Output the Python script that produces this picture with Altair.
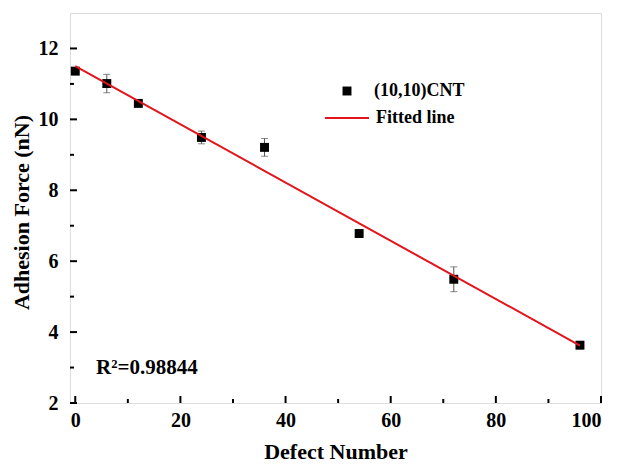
import altair as alt
import pandas as pd

# ---- data ----
defects = [0, 6, 12, 24, 36, 54, 72, 96]
force = [11.36, 11.01, 10.45, 9.49, 9.21, 6.78, 5.49, 3.63]
err = [0.05, 0.26, 0.06, 0.18, 0.25, 0.04, 0.35, 0.05]
fit_x = [0, 96]
fit_y = [11.50, 3.62]
x_major = [0, 20, 40, 60, 80, 100]
x_minor = [10, 30, 50, 70, 90]
y_major = [2, 4, 6, 8, 10, 12]
y_minor = [3, 5, 7, 9, 11]
annotation = ["R²=0.98844"]

FONT = "Liberation Serif"
RED = "#e3141b"

pts = pd.DataFrame({
    "defect": defects,
    "force": force,
    "lo": [f - e for f, e in zip(force, err)],
    "hi": [f + e for f, e in zip(force, err)],
    "series": ["(10,10)CNT"] * len(defects),
})
fit = pd.DataFrame({"defect": fit_x, "force": fit_y, "fit": ["Fitted line"] * len(fit_x)})

xs = alt.Scale(domain=[-1, 100], nice=False, zero=False)
ys = alt.Scale(domain=[2, 13], nice=False, zero=False)

x_axis = alt.Axis(values=x_major, title="Defect Number", grid=False, ticks=False, tickSize=0,
                  domain=False, labelPadding=7, titlePadding=11, labelFontSize=20,
                  titleFontSize=22, labelFontWeight="bold", titleFontWeight="bold",
                  labelColor="black", titleColor="black", labelFont=FONT, titleFont=FONT)
y_axis = alt.Axis(values=y_major, title="Adhesion Force (nN)", grid=False, ticks=False, tickSize=0,
                  domain=False, labelPadding=12, titlePadding=5, labelFontSize=20,
                  titleFontSize=22, labelFontWeight="bold", titleFontWeight="bold",
                  labelColor="black", titleColor="black", labelFont=FONT, titleFont=FONT,
                  titleY=199)

errbars = alt.Chart(pts).mark_errorbar(ticks=True, size=7, thickness=1, color="#555555").encode(
    x=alt.X("defect:Q", scale=xs, axis=x_axis),
    y=alt.Y("lo:Q", scale=ys, axis=y_axis),
    y2="hi:Q",
)

points = alt.Chart(pts).mark_point(filled=True, size=80, opacity=1, color="black").encode(
    x=alt.X("defect:Q", scale=xs),
    y=alt.Y("force:Q", scale=ys),
    shape=alt.Shape("series:N", scale=alt.Scale(domain=["(10,10)CNT"], range=["square"]),
                    legend=alt.Legend(orient="none", legendX=268, legendY=69, title=None,
                                      padding=0, symbolSize=80, labelOffset=18,
                                      labelFontSize=18, labelFontWeight="bold",
                                      labelFont=FONT, labelColor="black",
                                      symbolFillColor="black", symbolStrokeColor="black")),
)

line = alt.Chart(fit).mark_line(strokeWidth=2).encode(
    x=alt.X("defect:Q", scale=xs),
    y=alt.Y("force:Q", scale=ys),
    color=alt.Color("fit:N", scale=alt.Scale(domain=["Fitted line"], range=[RED]),
                    legend=alt.Legend(orient="none", legendX=254, legendY=82, title=None,
                                      padding=0, symbolType="stroke", symbolSize=1936,
                                      symbolStrokeWidth=2, labelOffset=6,
                                      labelFontSize=18, labelFontWeight="bold",
                                      labelFont=FONT, labelColor="black")),
)

# inward tick marks
xmaj = alt.Chart(pd.DataFrame({"v": x_major})).mark_rule(color="black", strokeWidth=2).encode(
    x=alt.X("v:Q", scale=xs), y=alt.value(390), y2=alt.value(383))
xmin = alt.Chart(pd.DataFrame({"v": x_minor})).mark_rule(color="black", strokeWidth=2).encode(
    x=alt.X("v:Q", scale=xs), y=alt.value(390), y2=alt.value(386))
ymaj = alt.Chart(pd.DataFrame({"v": y_major})).mark_rule(color="black", strokeWidth=2).encode(
    y=alt.Y("v:Q", scale=ys), x=alt.value(0), x2=alt.value(7))
ymin = alt.Chart(pd.DataFrame({"v": y_minor})).mark_rule(color="black", strokeWidth=2).encode(
    y=alt.Y("v:Q", scale=ys), x=alt.value(0), x2=alt.value(4))

ann = alt.Chart(pd.DataFrame({"t": annotation})).mark_text(
    align="left", baseline="middle", font=FONT, fontSize=21, fontWeight="bold", color="black"
).encode(text="t:N", x=alt.value(26), y=alt.value(355))

chart = alt.layer(errbars, points, line, xmaj, xmin, ymaj, ymin, ann).resolve_legend(
    shape="independent", color="independent"
).properties(
    width=531, height=390,
    autosize=alt.AutoSizeParams(type="none"),
    padding={"left": 70, "top": 13, "right": 16, "bottom": 61},
    background="white",
).configure_view(stroke="black", strokeWidth=2).configure(font=FONT)

chart.save("out.html", embed_options={"renderer": "svg", "actions": False})
